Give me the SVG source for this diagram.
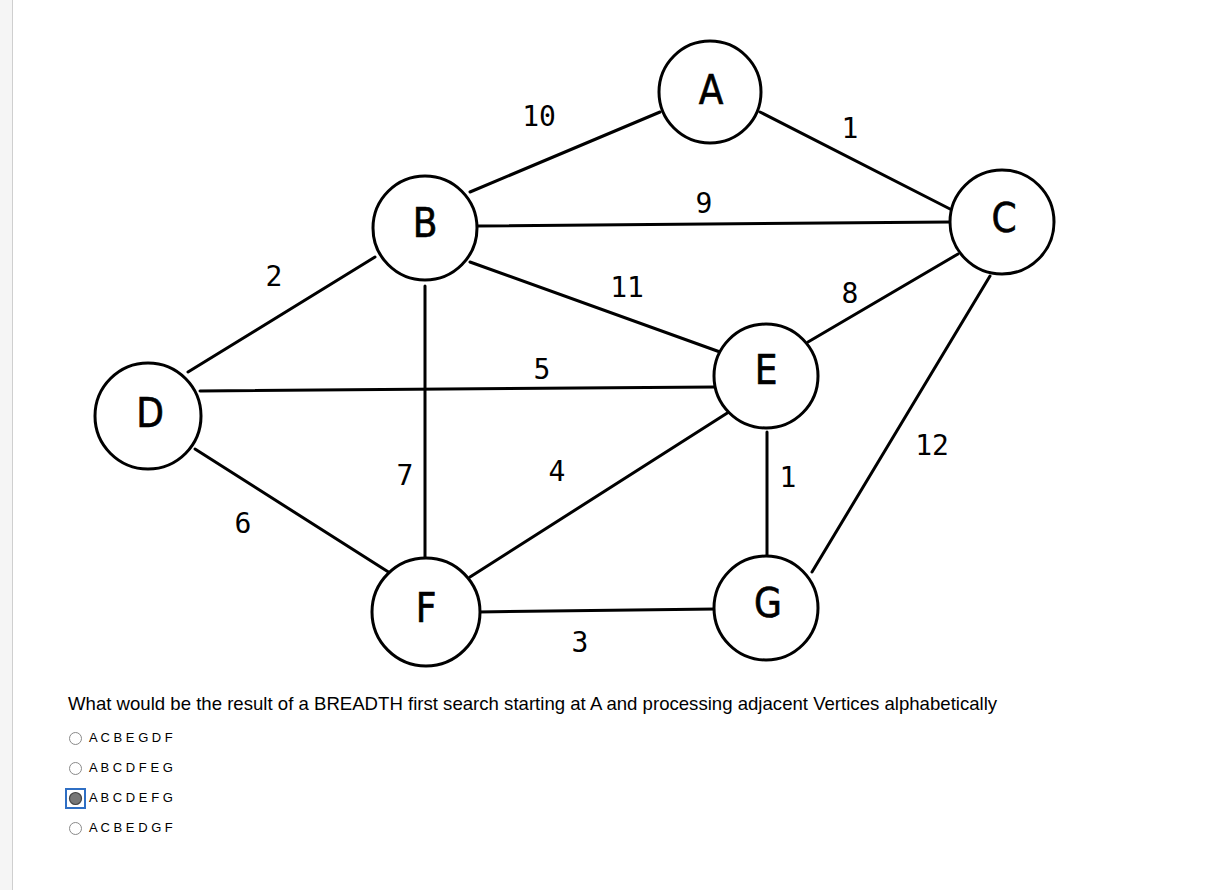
<svg xmlns="http://www.w3.org/2000/svg" width="1216" height="890" viewBox="0 0 1216 890">
<style>
.edge{stroke:#000;stroke-width:3;fill:none;stroke-linecap:round}
.node circle{fill:#fff;stroke:#000;stroke-width:3}
.node text{font-family:"DejaVu Sans","Liberation Sans",sans-serif;font-size:40px;text-anchor:middle;fill:#000;stroke:#000;stroke-width:0.6;font-stretch:condensed}
.w{font-family:"DejaVu Sans Mono","Liberation Mono",monospace;font-size:28px;text-anchor:middle;fill:#000}
.q{font-family:"Liberation Sans",Arial,sans-serif;font-size:18.6px;fill:#000}
.opt{font-family:"Liberation Sans",Arial,sans-serif;font-size:13px;fill:#000}
.radio{fill:#fff;stroke:#8a8a8a;stroke-width:1}
</style>
<rect x="0" y="0" width="1216" height="890" fill="#fff"/>
<rect x="0" y="0" width="12" height="890" fill="#f5f5f5"/>
<line x1="12.5" y1="0" x2="12.5" y2="890" stroke="#cfcfcf" stroke-width="1"/>
<g id="connectors">
<line class="edge" x1="470" y1="192" x2="660" y2="112"/>
<line class="edge" x1="760" y1="112" x2="952" y2="210"/>
<line class="edge" x1="477" y1="226" x2="951" y2="222"/>
<line class="edge" x1="470" y1="262" x2="720" y2="352"/>
<line class="edge" x1="425" y1="286" x2="425" y2="558"/>
<line class="edge" x1="375" y1="257" x2="188" y2="372"/>
<line class="edge" x1="200" y1="391" x2="716" y2="387"/>
<line class="edge" x1="195" y1="449" x2="390" y2="573"/>
<line class="edge" x1="808" y1="342" x2="958" y2="254"/>
<line class="edge" x1="470" y1="577" x2="732" y2="410"/>
<line class="edge" x1="767" y1="432" x2="767" y2="556"/>
<line class="edge" x1="990" y1="276" x2="812" y2="572"/>
<line class="edge" x1="478" y1="612" x2="716" y2="609"/>
</g>
<g id="weights">
<text class="w" x="539" y="126">10</text>
<text class="w" x="850" y="138">1</text>
<text class="w" x="704" y="213">9</text>
<text class="w" x="274" y="286">2</text>
<text class="w" x="627" y="297">11</text>
<text class="w" x="850" y="303">8</text>
<text class="w" x="542" y="379">5</text>
<text class="w" x="932" y="455">12</text>
<text class="w" x="405" y="485">7</text>
<text class="w" x="557" y="481">4</text>
<text class="w" x="788" y="487">1</text>
<text class="w" x="243" y="533">6</text>
<text class="w" x="580" y="652">3</text>
</g>
<g id="node-A" class="node"><circle cx="710" cy="92" r="51"/><text x="711" y="104">A</text></g>
<g id="node-B" class="node"><circle cx="425" cy="228" r="52"/><text x="425" y="237">B</text></g>
<g id="node-C" class="node"><circle cx="1002" cy="222" r="52"/><text x="1004" y="232">C</text></g>
<g id="node-D" class="node"><circle cx="148" cy="416" r="53"/><text x="150" y="427">D</text></g>
<g id="node-E" class="node"><circle cx="766" cy="376" r="52"/><text x="766" y="384">E</text></g>
<g id="node-F" class="node"><circle cx="426" cy="612" r="54"/><text x="426" y="622">F</text></g>
<g id="node-G" class="node"><circle cx="766" cy="608" r="52"/><text x="768" y="617">G</text></g>
<text class="q" x="68" y="710">What would be the result of a BREADTH first search starting at A and processing adjacent Vertices alphabetically</text>
<g id="options">
<circle class="radio" cx="75.5" cy="738.5" r="6"/>
<text class="opt" x="89" y="742">A C B E G D F</text>
<circle class="radio" cx="75.5" cy="768.5" r="6"/>
<text class="opt" x="89" y="772">A B C D F E G</text>
<rect x="66" y="789" width="19" height="19" fill="none" stroke="#2f6fc4" stroke-width="2"/>
<circle cx="75.5" cy="798.5" r="6" fill="#777" stroke="#444" stroke-width="1.2"/>
<text class="opt" x="89" y="802">A B C D E F G</text>
<circle class="radio" cx="75.5" cy="828.5" r="6"/>
<text class="opt" x="89" y="832">A C B E D G F</text>
</g>
</svg>
